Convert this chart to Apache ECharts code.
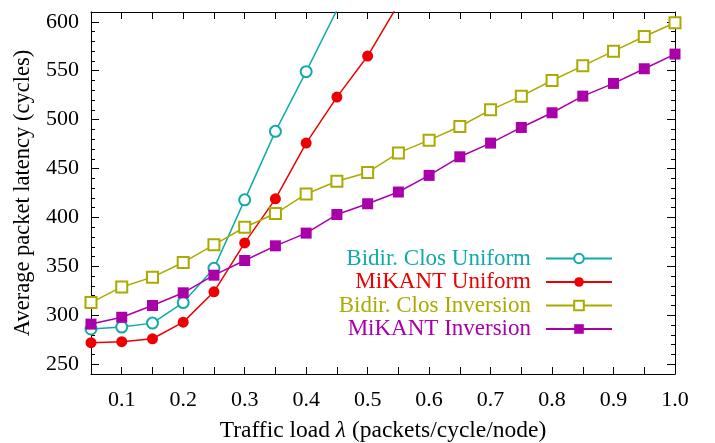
<!DOCTYPE html>
<html>
<head>
<meta charset="utf-8">
<script src="https://cdn.jsdelivr.net/npm/echarts@6/dist/echarts.min.js"></script>
<style>html,body{margin:0;padding:0;background:#fff;}#c{width:715px;height:443px;}</style>
</head>
<body>
<div id="c"></div>
<script>
var xValues = [0.05, 0.10, 0.15, 0.20, 0.25, 0.30, 0.35, 0.40, 0.45, 0.50, 0.55, 0.60, 0.65, 0.70, 0.75, 0.80, 0.85, 0.90, 0.95, 1.00];
var seriesNames = ['Bidir. Clos Uniform', 'MiKANT Uniform', 'Bidir. Clos Inversion', 'MiKANT Inversion'];
var closUniform = [286, 288, 292, 313, 348, 418, 488, 549, 612];
var mikantUniform = [272, 273, 276, 293, 324, 374, 419, 476, 523, 565, 618];
var closInversion = [313, 329, 339, 354, 372, 390, 404, 424, 437, 446, 466, 479, 493, 510, 524, 540, 555, 570, 585, 599];
var mikantInversion = [291, 298, 310, 323, 341, 356, 371, 384, 403, 414, 426, 443, 462, 476, 492, 507, 524, 537, 552, 567];
var xTickLabels = [0.1, 0.2, 0.3, 0.4, 0.5, 0.6, 0.7, 0.8, 0.9, 1.0];
var xTicks = [0.1, 0.15, 0.2, 0.25, 0.3, 0.35, 0.4, 0.45, 0.5, 0.55, 0.6, 0.65, 0.7, 0.75, 0.8, 0.85, 0.9, 0.95];
var yTickLabels = [250, 300, 350, 400, 450, 500, 550, 600];
var yMinorTicks = [250, 260, 270, 280, 290, 300, 310, 320, 330, 340, 350, 360, 370, 380, 390, 400, 410, 420, 430, 440, 450, 460, 470, 480, 490, 500, 510, 520, 530, 540, 550, 560, 570, 580, 590, 600];

var colors = ['#11aaaa', '#ee0000', '#aaaa00', '#aa00aa'];
var symbols = ['emptyCircle', 'circle', 'emptyRect', 'rect'];
var values = [closUniform, mikantUniform, closInversion, mikantInversion];
var FONT = 'Liberation Serif';

function pairs(arr) {
  return arr.map(function (v, i) { return [xValues[i], v]; });
}

var chart = echarts.init(document.getElementById('c'), null, {renderer: 'canvas'});

function yAx(pos, main, minor) {
  return {
    type: 'value', position: pos, min: 240, max: 610,
    axisLine: {show: main, lineStyle: {color: '#000', width: 1}},
    axisTick: {show: true, inside: true, length: minor ? 4 : 8, customValues: minor ? yMinorTicks : yTickLabels, lineStyle: {color: '#000', width: 1}},
    axisLabel: {show: main && pos === 'left', customValues: yTickLabels, margin: 12, fontFamily: FONT, fontSize: 22, color: '#000'},
    splitLine: {show: false},
    name: (main && pos === 'left') ? 'Average packet latency (cycles)' : '',
    nameLocation: 'middle', nameGap: 56,
    nameTextStyle: {fontFamily: FONT, fontSize: 22.5, color: '#000'}
  };
}
function xAx(pos) {
  var bottom = pos === 'bottom';
  return {
    type: 'value', position: pos, min: 0.05, max: 1.0,
    axisLine: {show: true, onZero: false, lineStyle: {color: '#000', width: 1}},
    axisTick: {show: true, inside: true, length: 7, customValues: xTicks, lineStyle: {color: '#000', width: 1}},
    axisLabel: {show: bottom, customValues: xTickLabels, margin: 15, fontFamily: FONT, fontSize: 22, color: '#000',
      formatter: function (v) { return v.toFixed(1); }},
    splitLine: {show: false},
    name: bottom ? 'Traffic load {i|λ} (packets/cycle/node)' : '',
    nameLocation: 'middle', nameGap: 45,
    nameTextStyle: {fontFamily: FONT, fontSize: 23.5, color: '#000', rich: {i: {fontFamily: FONT, fontSize: 23.5, fontStyle: 'italic', color: '#000'}}}
  };
}

var series = seriesNames.map(function (n, i) {
  var empty = symbols[i].indexOf('empty') === 0;
  return {
    name: n, type: 'line', xAxisIndex: 0, yAxisIndex: 0,
    data: pairs(values[i]),
    symbol: symbols[i], symbolSize: 11,
    showAllSymbol: true, clip: true,
    lineStyle: {color: colors[i], width: 1.5},
    itemStyle: {color: colors[i], borderColor: colors[i], borderWidth: empty ? 1.5 : 0},
    emphasis: {disabled: true},
    animation: false
  };
});

chart.setOption({
  animation: false,
  backgroundColor: '#fff',
  grid: {left: 91, right: 40, top: 12, bottom: 69, containLabel: false, outerBoundsMode: 'none'},
  xAxis: [xAx('bottom'), xAx('top')],
  yAxis: [yAx('left', true, false), yAx('left', false, true), yAx('right', true, false), yAx('right', false, true)],
  legend: {
    orient: 'vertical', align: 'right', right: 102, top: 247, padding: 0,
    itemWidth: 66, itemHeight: 12, itemGap: 0.5,
    selectedMode: false,
    data: seriesNames.map(function (n, i) {
      return {name: n, textStyle: {color: colors[i]}};
    }),
    textStyle: {fontFamily: FONT, fontSize: 23, lineHeight: 23, padding: [0, 10, 0, 0]}
  },
  series: series
});
</script>
</body>
</html>
